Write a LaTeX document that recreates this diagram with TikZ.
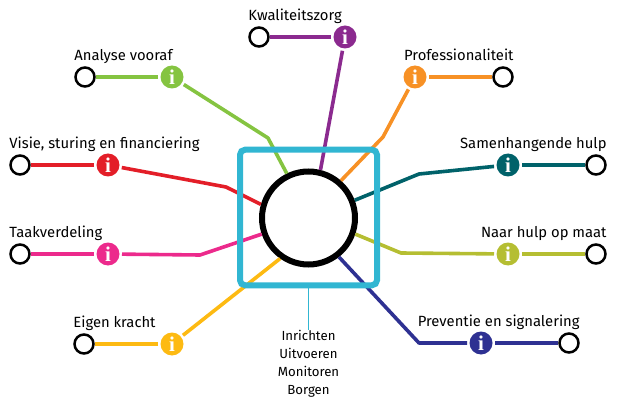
\documentclass[tikz,border=0pt]{standalone}
\usepackage{fontspec}
\setmainfont{Fira Sans}
\newfontfamily\infofont{Liberation Serif}
\usetikzlibrary{positioning}
\definecolor{kwaliteit}{HTML}{8B2A8F}
\definecolor{analyse}{HTML}{85C441}
\definecolor{visie}{HTML}{E31E28}
\definecolor{taak}{HTML}{EC2A8C}
\definecolor{eigen}{HTML}{FDBA12}
\definecolor{prof}{HTML}{F79125}
\definecolor{samen}{HTML}{00626A}
\definecolor{maat}{HTML}{B5BE32}
\definecolor{preventie}{HTML}{2E3192}
\definecolor{kader}{HTML}{31B6D2}

\begin{document}
\begin{tikzpicture}[
  x=1pt, y=-1pt,
  stopnode/.style={draw, circle, fill=white, line width=2.5pt, minimum size=19pt, inner sep=0pt},
  infonode/.style={circle, minimum size=23pt, inner sep=0pt, outer sep=2.5pt, text=white, font=\infofont\bfseries\fontsize{21}{21}\selectfont},
  tag/.style={anchor=base west, inner sep=0pt, yshift=6pt, font=\fontsize{14.8}{16}\selectfont},
  rtag/.style={tag, anchor=base east},
  route/.style={line width=3.6pt, line join=round}
]
\useasboundingbox (0,0) rectangle (624,409);
\node[draw, circle, line width=6pt, minimum size=93pt, inner sep=0pt] (hub) at (308.5,218) {};
\node[infonode, fill=kwaliteit] (ikwaliteit) at (345,37) {i};
\node[infonode, fill=analyse] (ianalyse) at (172,77) {i};
\node[infonode, fill=visie] (ivisie) at (108,165) {i};
\node[infonode, fill=taak] (itaak) at (108,254) {i};
\node[infonode, fill=eigen] (ieigen) at (172,344) {i};
\node[infonode, fill=prof] (iprof) at (415,77) {i};
\node[infonode, fill=samen] (isamen) at (508,165) {i};
\node[infonode, fill=maat] (imaat) at (508,254) {i};
\node[infonode, fill=preventie] (ipreventie) at (481,343) {i};
\coordinate (banalyse) at (268,138);
\coordinate (bvisie) at (226,187);
\coordinate (btaak) at (200,255);
\coordinate (bprof) at (383,137);
\coordinate (bsamen) at (419,174);
\coordinate (bmaat) at (401,253);
\coordinate (bpreventie) at (419,343);
\draw[route, kwaliteit] (ikwaliteit) -- (hub.76);
\draw[route, analyse] (ianalyse) -- (banalyse) -- (hub.116);
\draw[route, visie] (ivisie) -- (bvisie) -- (hub.164);
\draw[route, taak] (itaak) -- (btaak) -- (hub.199);
\draw[route, eigen] (ieigen) -- (hub.235);
\draw[route, prof] (iprof) -- (bprof) -- (hub.49);
\draw[route, samen] (isamen) -- (bsamen) -- (hub.21);
\draw[route, maat] (imaat) -- (bmaat) -- (hub.-19);
\draw[route, preventie] (ipreventie) -- (bpreventie) -- (hub.-52);
\node[draw=kader, line width=6pt, rounded corners=5pt, minimum width=137pt, minimum height=135.5pt, inner sep=0pt] (frame) at (308.5,217.5) {};
\node[align=center, inner sep=0pt, font=\fontsize{13.2}{18}\selectfont] (phases) at (308.5,364) {Inrichten\\Uitvoeren\\Monitoren\\Borgen};
\draw[kader, line width=1.5pt] (frame.south) -- (phases.north);
\node[stopnode] (kwaliteit) at (259,37) {};
\node[stopnode] (analysestop) at (85,77) {};
\node[stopnode] (visiestop) at (20,165) {};
\node[stopnode] (taakstop) at (20,254) {};
\node[stopnode] (eigenstop) at (84,344) {};
\node[stopnode] (profstop) at (503,77) {};
\node[stopnode] (samenstop) at (596,165) {};
\node[stopnode] (maatstop) at (596,254) {};
\node[stopnode] (preventiestop) at (569,343) {};
\draw[route, kwaliteit] (ikwaliteit) -- (kwaliteit);
\draw[route, analyse] (ianalyse) -- (analysestop);
\draw[route, visie] (ivisie) -- (visiestop);
\draw[route, taak] (itaak) -- (taakstop);
\draw[route, eigen] (ieigen) -- (eigenstop);
\draw[route, prof] (iprof) -- (profstop);
\draw[route, samen] (isamen) -- (samenstop);
\draw[route, maat] (imaat) -- (maatstop);
\draw[route, preventie] (ipreventie) -- (preventiestop);
\node[tag] (lkwaliteit) at (kwaliteit.west |- kwaliteit.north) {Kwaliteitszorg};
\node[tag] (lanalyse) at (analysestop.west |- analysestop.north) {Analyse vooraf};
\node[tag] (lvisie) at (visiestop.west |- visiestop.north) {Visie, sturing en financiering};
\node[tag] (ltaak) at (taakstop.west |- taakstop.north) {Taakverdeling};
\node[tag] (leigen) at (eigenstop.west |- eigenstop.north) {Eigen kracht};
\node[rtag] (lprof) at (profstop.east |- profstop.north) {Professionaliteit};
\node[rtag] (lsamen) at (samenstop.east |- samenstop.north) {Samenhangende hulp};
\node[rtag] (lmaat) at (maatstop.east |- maatstop.north) {Naar hulp op maat};
\node[rtag] (lpreventie) at (preventiestop.east |- preventiestop.north) {Preventie en signalering};
\end{tikzpicture}
\end{document}
